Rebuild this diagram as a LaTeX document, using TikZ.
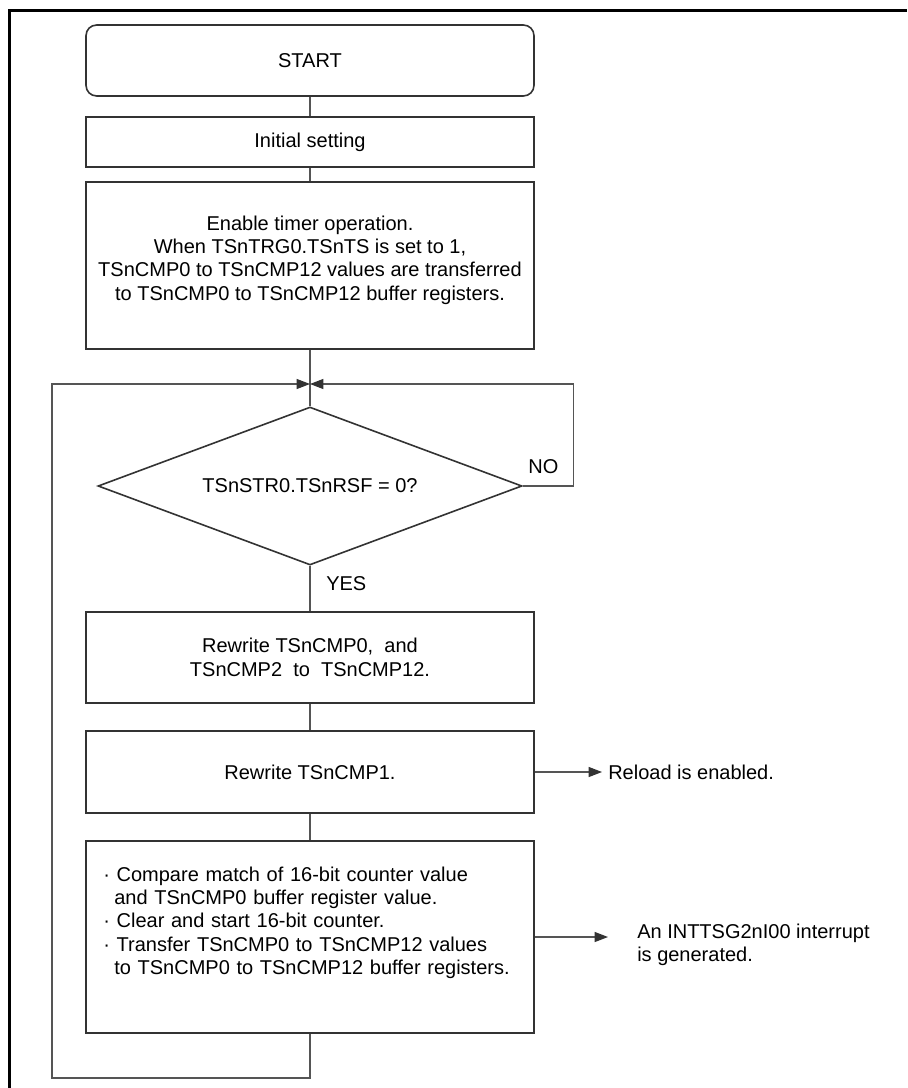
\documentclass[tikz,border=0pt]{standalone}
\usepackage{fontspec}
\setmainfont{Liberation Sans}
\usetikzlibrary{positioning, arrows.meta, shapes.geometric}
\definecolor{boxgray}{HTML}{333333}
\definecolor{linegray}{HTML}{555555}

\begin{document}
\begin{tikzpicture}[
  x=0.75pt, y=0.75pt,
  every node/.style={font=\fontsize{15}{17.5}\selectfont},
  term/.style={draw=boxgray, line width=1.2pt, rounded corners=8pt, minimum width=336pt, minimum height=53.25pt},
  proc/.style={draw=boxgray, line width=1.2pt, minimum width=336pt, align=center},
  decide/.style={diamond, aspect=2.68, draw=boxgray, line width=1.2pt, minimum width=318pt, minimum height=118.5pt, inner sep=0pt},
  line/.style={draw=linegray, line width=0.8pt},
  flow/.style={line, -{Triangle[length=10pt, width=7.5pt, fill=boxgray, color=boxgray]}},
]
\useasboundingbox (0,0) rectangle (907,-1088);
% Frame
\draw[line width=2.25pt] (9,-1088) -- (9,-11) -- (907,-11);

% Main column
\node[term] (start) at (310,-60.5) {START};
\node[proc, minimum height=37.5pt] (init) at (310,-142) {Initial setting};
\node[proc, minimum height=125.25pt] (enable) at (310,-265.5) {Enable timer operation.\\When TSnTRG0.TSnTS is set to 1,\\TSnCMP0 to TSnCMP12 values are transferred\\to TSnCMP0 to TSnCMP12 buffer registers.\\[-6pt]\mbox{}};
\coordinate (merge) at (310,-384);
\node[decide] (rsf) at (310,-486) {TSnSTR0.TSnRSF = 0?};
\node[proc, minimum height=68.25pt] (rwa) at (310,-657.5) {Rewrite TSnCMP0,\ \ and\\TSnCMP2\ \ to\ \ TSnCMP12.};
\node[proc, minimum height=61.5pt] (rwb) at (310,-772) {Rewrite TSnCMP1.};
\node[proc, minimum height=144pt, align=left, text width=310pt] (cmp) at (310,-937) {%
  · Compare match of 16-bit counter value\\
  \hspace*{0.55em}and TSnCMP0 buffer register value.\\
  · Clear and start 16-bit counter.\\
  · Transfer TSnCMP0 to TSnCMP12 values\\
  \hspace*{0.55em}to TSnCMP0 to TSnCMP12 buffer registers.\\[7pt]\mbox{}};

% Labels
\node[anchor=south west, inner sep=0pt] (no) at ([xshift=4, yshift=9]rsf.east) {NO};
\node[anchor=south west, inner sep=0pt] (yes) at ([xshift=12, yshift=-19]rsf.south) {YES};
\node[anchor=west, inner sep=4.5pt] (reload) at (602,-772) {Reload is enabled.};
\node[anchor=west, align=left, inner sep=0pt] (irq) at (637,-945) {An INTTSG2nI00 interrupt\\is generated.};

% Connectors
\draw[line] (start) -- (init);
\draw[line] (init) -- (enable);
\draw[line] (enable) -- (rsf);
\draw[line] (rsf) -- (rwa);
\draw[line] (rwa) -- (rwb);
\draw[line] (rwb) -- (cmp);
\draw[flow] (rsf.east) -- ++(51,0) |- (merge);
\coordinate (loopend) at (52,-1078);
\draw[flow] (cmp.south) |- (loopend) |- (merge);
\draw[flow] (rwb) -- (reload);
\draw[flow, shorten >=21.75pt] (cmp.east) -- (cmp.east -| irq.west);

\end{tikzpicture}
\end{document}
